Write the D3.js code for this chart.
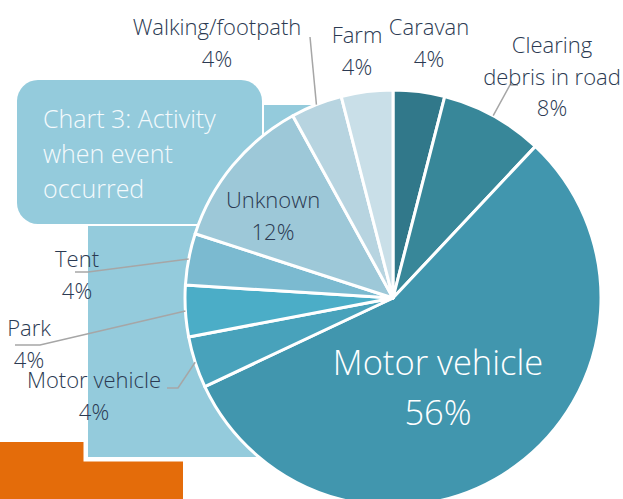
<!DOCTYPE html>
<html>
<head>
<meta charset="utf-8">
<script src="https://cdn.jsdelivr.net/npm/d3@7"></script>
<style>
  html, body { margin: 0; padding: 0; background: #fff; }
  svg { display: block; font-family: "Open Sans", "Segoe UI", sans-serif; }
  .lbl { fill: #2b3a52; font-size: 22px; font-weight: 300; }
  .big { fill: #fff; font-size: 34.5px; font-weight: 300; }
  .title { fill: #f4fafc; font-size: 25px; font-weight: 300; }
  .leader { fill: none; stroke: #a6a6a6; stroke-width: 1.5; }
</style>
</head>
<body>
<svg id="chart" width="623" height="499"></svg>
<script>
"use strict";

// slices, clockwise from 12 o'clock
var categories = ["Caravan", "Clearing debris in road", "Motor vehicle", "Motor vehicle", "Park", "Tent", "Unknown", "Walking/footpath", "Farm"];
var values = [4, 8, 56, 4, 4, 4, 12, 4, 4];
var colors = ["#31788a", "#388799", "#4196ae", "#48a2bb", "#4badc7", "#7bbad0", "#9dc8d8", "#b7d4e0", "#c9dfe8"];
var titleLines = ["Chart 3: Activity", "when event", "occurred"];

// label placement, relative to pie centre (text x, first baseline, leader elbow/end)
var layout = [
  {x: 36, y: -263},
  {x: 159, y: -245, lines: ["Clearing", "debris in road"], leader: [[117, -213], [125, -213]]},
  {x: 45, y: 77, big: true},
  {x: -299, y: 90, leader: [[-215, 90], [-226, 90]]},
  {x: -364, y: 38, leader: [[-353, 47], [-378, 47]]},
  {x: -316, y: -31, leader: [[-305, -26], [-318, -26]]},
  {x: -120, y: -90},
  {x: -176, y: -263, leader: [[-83, -261]]},
  {x: -36, y: -255}
];

var svg = d3.select("#chart"),
  cx = 393,
  cy = 298,
  radius = 208
;

// background decoration
svg.append("rect")
  .attr("x", 0).attr("y", 442)
  .attr("width", 183).attr("height", 60)
  .attr("fill", "#e46c0a");

svg.append("rect")
  .attr("x", 88).attr("y", 105)
  .attr("width", 320).attr("height", 352)
  .attr("fill", "#94cbdc")
  .attr("stroke", "#fff")
  .attr("stroke-width", 9)
  .attr("paint-order", "stroke");

svg.append("rect")
  .attr("x", 15).attr("y", 78)
  .attr("width", 249).attr("height", 148)
  .attr("rx", 22).attr("ry", 22)
  .attr("fill", "#fff");

svg.append("rect")
  .attr("x", 17).attr("y", 80)
  .attr("width", 245).attr("height", 144)
  .attr("rx", 21).attr("ry", 21)
  .attr("fill", "#94cbdc");

svg.append("text")
  .attr("class", "title")
  .selectAll("tspan")
  .data(titleLines)
  .enter().append("tspan")
  .attr("x", 43)
  .attr("y", function(d, i) { return 128 + i * 35; })
  .text(function(d) { return d; });

// pie
var pie = d3.pie().sort(null).value(function(d) { return d; }),
  arcs = pie(values),
  arc = d3.arc().innerRadius(0).outerRadius(radius),
  edge = d3.arc().innerRadius(radius).outerRadius(radius),
  g = svg.append("g").attr("transform", "translate(" + cx + "," + cy + ")")
;

g.selectAll("path.slice")
  .data(arcs)
  .enter().append("path")
  .attr("class", "slice")
  .attr("d", arc)
  .attr("fill", function(d, i) { return colors[i]; })
  .attr("stroke", "#fff")
  .attr("stroke-width", 3)
  .attr("stroke-linejoin", "round");

// leader lines start on the slice edge at mid angle
arcs.forEach(function(d, i) {
  var l = layout[i];
  if (!l.leader) return;
  var pts = [edge.centroid(d)].concat(l.leader);
  g.append("path")
    .attr("class", "leader")
    .attr("d", d3.line()(pts));
});

arcs.forEach(function(d, i) {
  var l = layout[i],
    lines = (l.lines || [categories[i]]).concat([values[i] + "%"]),
    step = l.big ? 50 : 31.5
  ;
  g.append("text")
    .attr("class", l.big ? "big" : "lbl")
    .attr("text-anchor", "middle")
    .selectAll("tspan")
    .data(lines)
    .enter().append("tspan")
    .attr("x", l.x)
    .attr("y", function(t, k) { return l.y + k * step; })
    .text(function(t) { return t; });
});
</script>
</body>
</html>
